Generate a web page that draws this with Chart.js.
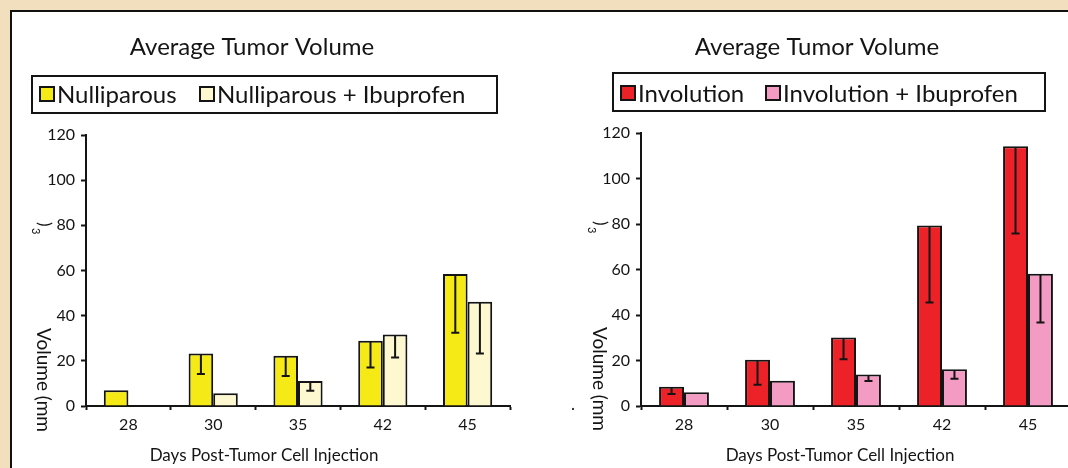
<!DOCTYPE html>
<html>
<head>
<meta charset="utf-8">
<script src="https://cdn.jsdelivr.net/npm/chart.js@4.4.0/dist/chart.umd.min.js"></script>
<style>
html, body { margin: 0; padding: 0; }
body { width: 1068px; height: 468px; overflow: hidden; background: #f1dfbe; position: relative; }
#panel { position: absolute; left: 10px; top: 10px; width: 1080px; height: 480px; background: #fff; border: 2px solid #111; }
#left_wp { position: absolute; left: 0; top: 0; width: 534px; height: 468px; }
#right_wp { position: absolute; left: 534px; top: 0; width: 545px; height: 468px; }
</style>
</head>
<body>
<div id="panel"></div>
<div id="left_wp"><canvas id="left_ctx"></canvas></div>
<div id="right_wp"><canvas id="right_ctx"></canvas></div>
<script>
var days = ["28", "30", "35", "42", "45"];
var y_ticks = [0, 20, 40, 60, 80, 100, 120];

// left chart
var nulliparous = [7, 23.3, 22.3, 28.9, 58.4];
var nulliparous_low = [null, 14.2, 13.3, 17.1, 32.4];
var nulliparous_ibu = [null, 5.6, 11.1, 31.7, 46.2];
var nulliparous_ibu_low = [null, null, 6.8, 21.5, 23.3];

// right chart
var involution = [8.5, 20.3, 30.1, 79.3, 114.2];
var involution_low = [5.3, 9.3, 20.6, 45.5, 75.8];
var involution_ibu = [6.0, 11.1, 13.8, 16.2, 58.1];
var involution_ibu_low = [null, null, 11, 12, 36.7];

var font = "Lato, 'Open Sans', sans-serif";
var ink = "#141414";

// error bars go only downward, cap at the lower end
var errorBars = {
    id: "errorBars",
    afterDatasetsDraw: function (chart) {
        var c = chart.ctx;
        var yScale = chart.scales.y;
        c.save();
        c.strokeStyle = ink;
        c.lineWidth = 2;
        chart.data.datasets.forEach(function (ds, d) {
            var meta = chart.getDatasetMeta(d);
            for (var i = 0; i < ds.data.length; i++) {
                var low = ds.low[i];
                if (low == null || ds.data[i] == null) continue;
                var bar = meta.data[i];
                var yb = yScale.getPixelForValue(low);
                c.beginPath();
                c.moveTo(bar.x, bar.y + 1);
                c.lineTo(bar.x, yb);
                c.moveTo(bar.x - 4, yb);
                c.lineTo(bar.x + 4, yb);
                c.stroke();
            }
        });
        c.restore();
    }
};

// title, boxed legend and axis titles
var decor = {
    id: "decor",
    afterDraw: function (chart) {
        var o = chart.options.plugins.decor;
        var c = chart.ctx;
        c.save();
        c.fillStyle = ink;
        c.textBaseline = "alphabetic";

        c.font = "24px " + font;
        c.textAlign = "center";
        c.fillText(o.title, o.titleX, 55);

        c.lineWidth = 2;
        c.strokeStyle = ink;
        c.strokeRect(o.box[0], o.box[1], o.box[2] - o.box[0], o.box[3] - o.box[1]);
        c.textAlign = "left";
        for (var i = 0; i < 2; i++) {
            var ds = chart.data.datasets[i];
            c.fillStyle = ds.backgroundColor;
            c.fillRect(o.swatch[i], o.swatchY, 14, 14);
            c.strokeRect(o.swatch[i], o.swatchY, 14, 14);
            c.fillStyle = ink;
            c.fillText(ds.label, o.swatch[i] + 17, o.legendBase);
        }

        c.font = "17px " + font;
        c.textAlign = "center";
        c.fillText("Days Post-Tumor Cell Injection", o.xTitleX, 461);

        if (o.dot) {
            c.textAlign = "left";
            c.fillText(".", o.dot[0], o.dot[1]);
        }

        c.translate(o.yTitleX, o.yTitleY);
        c.rotate(Math.PI / 2);
        c.textAlign = "left";
        c.font = "19px " + font;
        c.fillText("Volume (mm", 0, 0);
        c.font = "17px " + font;
        c.fillText(")", -106, -2);
        c.font = "11px " + font;
        c.fillText("3", -100, 5);
        c.restore();
    }
};

function makeChart(canvas, sets, area, decorOpts) {
    return new Chart(canvas, {
        type: "bar",
        data: {
            labels: days,
            datasets: sets.map(function (s) {
                return {
                    label: s.label,
                    data: s.data,
                    low: s.low,
                    backgroundColor: s.color,
                    borderColor: ink,
                    borderWidth: 2,
                    borderSkipped: "bottom",
                    categoryPercentage: 0.58,
                    barPercentage: 1
                };
            })
        },
        options: {
            animation: false,
            responsive: false,
            devicePixelRatio: 1,
            layout: { padding: { left: 0, top: area.top, right: area.right, bottom: 0 } },
            scales: {
                x: {
                    afterFit: function (s) { s.height = 468 - area.bottom; },
                    grid: { drawOnChartArea: false, offset: true, tickLength: 4, tickColor: ink, tickWidth: 2 },
                    border: { color: ink, width: 2 },
                    ticks: { color: ink, font: { family: font, size: 16 }, padding: 5 }
                },
                y: {
                    min: 0,
                    max: 120,
                    afterFit: function (s) { s.width = area.left; },
                    afterBuildTicks: function (s) { s.ticks = y_ticks.map(function (v) { return { value: v }; }); },
                    grid: { drawOnChartArea: false, tickLength: 5, tickColor: ink, tickWidth: 2 },
                    border: { color: ink, width: 2 },
                    ticks: { color: ink, font: { family: font, size: 16 }, padding: 6 }
                }
            },
            plugins: {
                legend: { display: false },
                tooltip: { enabled: false },
                decor: decorOpts
            }
        },
        plugins: [errorBars, decor]
    });
}

var left_canvas = document.getElementById("left_ctx");
left_canvas.width = 534;
left_canvas.height = 468;
makeChart(left_canvas, [
    { label: "Nulliparous", data: nulliparous, low: nulliparous_low, color: "#f6ea16" },
    { label: "Nulliparous + Ibuprofen", data: nulliparous_ibu, low: nulliparous_ibu_low, color: "#fdf8d0" }
], { left: 86, top: 135, right: 24, bottom: 406 }, {
    title: "Average Tumor Volume", titleX: 252,
    box: [32, 76, 497, 113], swatch: [40, 200], swatchY: 87, legendBase: 103,
    xTitleX: 264, yTitleX: 37, yTitleY: 328, dot: null
});

var right_canvas = document.getElementById("right_ctx");
right_canvas.width = 545;
right_canvas.height = 468;
makeChart(right_canvas, [
    { label: "Involution", data: involution, low: involution_low, color: "#ec2228" },
    { label: "Involution + Ibuprofen", data: involution_ibu, low: involution_ibu_low, color: "#f49bc3" }
], { left: 107, top: 133, right: 8, bottom: 406 }, {
    title: "Average Tumor Volume", titleX: 283,
    box: [79, 73, 511, 111], swatch: [87, 232], swatchY: 86, legendBase: 102,
    xTitleX: 306, yTitleX: 59, yTitleY: 327, dot: [37, 410]
});
</script>
</body>
</html>
